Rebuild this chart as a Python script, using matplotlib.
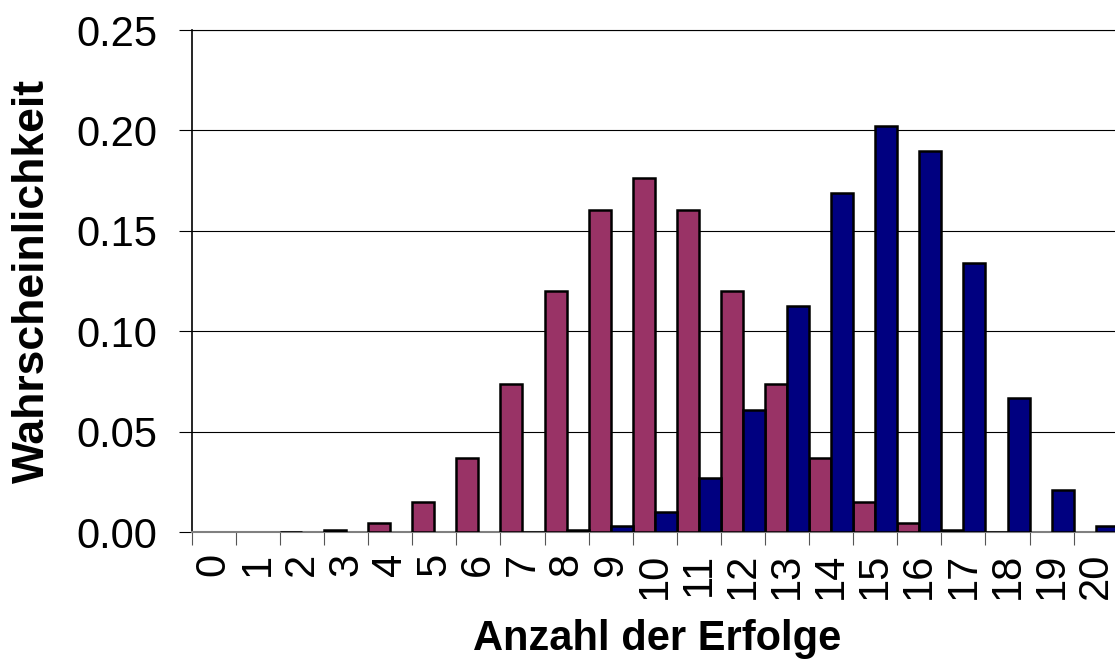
import matplotlib
matplotlib.use('Agg')
import matplotlib.pyplot as plt
import numpy as np

erfolge = list(range(0, 21))
p_maroon = [0.0, 0.0, 0.0002, 0.0011, 0.0046, 0.0148, 0.0370, 0.0739, 0.1201, 0.1602, 0.1762,
            0.1602, 0.1201, 0.0739, 0.0370, 0.0148, 0.0046, 0.0011, 0.0002, 0.0, 0.0]
p_blau = [0.0, 0.0, 0.0, 0.0, 0.0, 0.0, 0.0, 0.0002, 0.0008, 0.0030, 0.0099,
          0.0271, 0.0609, 0.1124, 0.1686, 0.2023, 0.1897, 0.1339, 0.0669, 0.0211, 0.0032]
y_ticks = [0.0, 0.05, 0.10, 0.15, 0.20, 0.25]

plt.rcParams['font.family'] = ['Liberation Sans', 'DejaVu Sans']

fig = plt.figure(figsize=(11.15, 6.66), dpi=100)
ax = fig.add_axes([191.7 / 1115, 134 / 666, (1117.8 - 191.7) / 1115, 502 / 666])

x = np.array(erfolge)
lw_m = [1.8 if v > 0 else 0 for v in p_maroon]
lw_b = [1.8 if v > 0 else 0 for v in p_blau]
ax.bar(x - 0.25, p_maroon, width=0.5, color='#993366', edgecolor='black', linewidth=lw_m, zorder=3)
ax.bar(x + 0.25, p_blau, width=0.5, color='#000080', edgecolor='black', linewidth=lw_b, zorder=3)

ax.set_xlim(-0.5, 20.5)
ax.set_ylim(0, 0.25)

# ticks at category boundaries, labels at centers
ax.set_xticks(np.arange(-0.5, 20.6, 1.0))
ax.set_xticklabels([])
ax.set_xticks(x, minor=True)
ax.set_xticklabels([str(e) for e in erfolge], minor=True, rotation=90, fontsize=30,
                   family=['Liberation Sans Narrow', 'Liberation Sans'], va='top')
ax.tick_params(axis='x', which='major', length=9.5, width=0.8, color='#555555', direction='out')
ax.tick_params(axis='x', which='minor', length=0, pad=15)

ax.set_yticks(y_ticks)
ax.set_yticklabels([f'{v:.2f}' for v in y_ticks], fontsize=30)
ax.tick_params(axis='y', length=9.5, width=0.8, pad=15, direction='out')

ax.yaxis.grid(True, color='black', linewidth=0.8, zorder=0)
ax.set_axisbelow(True)

ax.spines['right'].set_visible(False)
ax.spines['top'].set_linewidth(0.8)
ax.spines['left'].set_linewidth(1.2)
ax.spines['bottom'].set_color('#808080')
ax.spines['bottom'].set_linewidth(1.5)

ax.set_xlabel('Anzahl der Erfolge', fontsize=30, fontweight='bold')
ax.xaxis.set_label_coords((657 - 191.7) / (1117.8 - 191.7), -(650 - 532) / 502)
ax.xaxis.label.set_va('baseline')
ax.set_ylabel('Wahrscheinlichkeit', fontsize=32, fontweight='bold')
ax.yaxis.set_label_coords(-(191.7 - 12) / (1117.8 - 191.7), 0.5)
ax.yaxis.label.set_va('top')

fig.savefig('out.png', dpi=100)
